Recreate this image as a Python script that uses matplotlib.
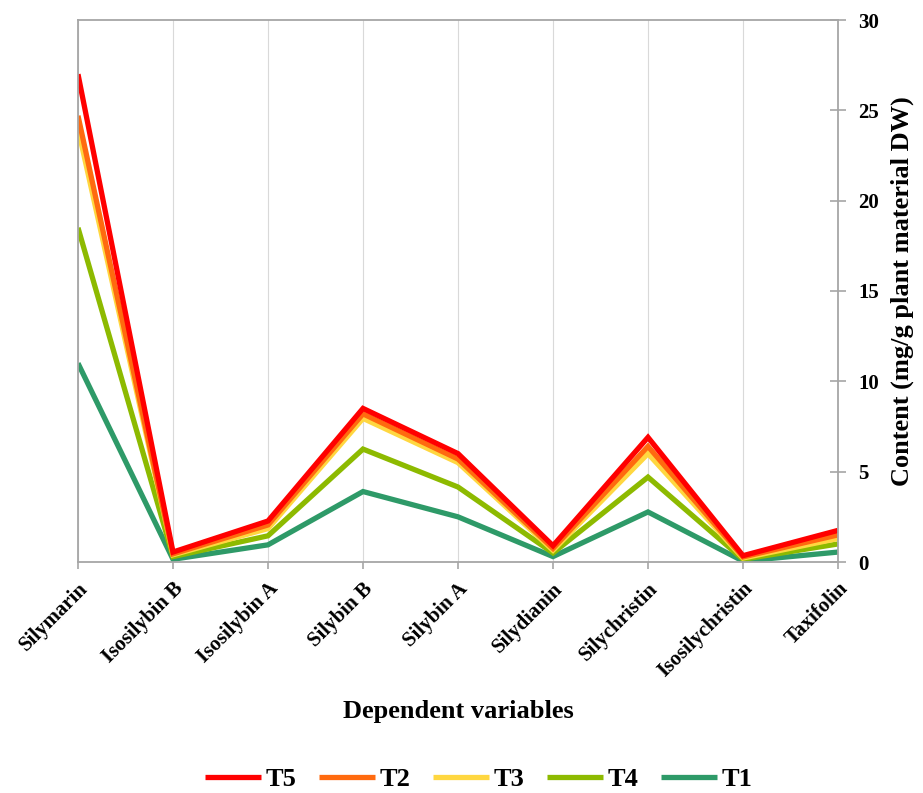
import matplotlib
matplotlib.use("Agg")
import matplotlib.pyplot as plt

categories = ["Silymarin", "Isosilybin B", "Isosilybin A", "Silybin B", "Silybin A",
              "Silydianin", "Silychristin", "Isosilychristin", "Taxifolin"]

t5 = [27.0, 0.55, 2.27, 8.5, 6.0, 0.9, 6.9, 0.35, 1.75]
t2 = [24.7, 0.45, 2.05, 8.2, 5.7, 0.75, 6.4, 0.28, 1.5]
t3 = [24.0, 0.40, 1.85, 7.95, 5.5, 0.65, 6.0, 0.22, 1.3]
t4 = [18.5, 0.30, 1.45, 6.25, 4.15, 0.5, 4.7, 0.15, 1.0]
t1 = [11.0, 0.15, 0.95, 3.9, 2.5, 0.3, 2.77, 0.05, 0.55]

series = [("T5", t5, "#FF0000"), ("T2", t2, "#FF6A0F"), ("T3", t3, "#FFD740"),
          ("T4", t4, "#8DBA00"), ("T1", t1, "#2E9A68")]

plt.rcParams["font.family"] = ["Liberation Serif", "DejaVu Serif"]
plt.rcParams["font.weight"] = "bold"

fig = plt.figure(figsize=(9.23, 7.93), dpi=100)
ax = fig.add_axes([78 / 923, 1 - 562 / 793, 760 / 923, 542 / 793])

x = list(range(len(categories)))
lines = {}
for name, vals, col in series[::-1]:
    ln, = ax.plot(x, vals, color=col, lw=3.8, solid_joinstyle="miter",
                  solid_capstyle="butt", label=name)
    lines[name] = ln

ax.set_xlim(0, len(categories) - 1)
ax.set_ylim(0, 30)
ax.set_yticks(range(0, 31, 5))
ax.set_xticks(x)
ax.set_xticklabels(categories, rotation=45, ha="right", rotation_mode="anchor",
                   fontsize=15, fontweight="bold")
ax.yaxis.tick_right()
ax.yaxis.set_label_position("right")
ax.tick_params(axis="y", direction="inout", length=11, width=1.2, color="#A6A6A6",
               labelsize=15, pad=9)
ax.tick_params(axis="x", direction="out", length=5, width=1.2, color="#A6A6A6", pad=7)
for lab in ax.get_yticklabels():
    lab.set_fontweight("bold")

ax.grid(axis="x", color="#D9D9D9", lw=0.8)
ax.set_axisbelow(True)
for side in ["left", "right", "top", "bottom"]:
    ax.spines[side].set_color("#A6A6A6")
    ax.spines[side].set_linewidth(1.3)

ax.set_ylabel("Content (mg/g plant material DW)", fontsize=19, fontweight="bold",
              labelpad=8)
ax.set_xlabel("Dependent variables", fontsize=19, fontweight="bold", labelpad=13)

handles = [lines[n] for n, _, _ in series]
fig.legend(handles, [n for n, _, _ in series], loc="center", ncol=5,
           bbox_to_anchor=(479 / 923, 1 - 779 / 793), frameon=False,
           prop={"size": 19, "weight": "bold", "family": "Liberation Serif"},
           handlelength=2.1, handletextpad=0.2, columnspacing=0.85)

fig.savefig("out.png", dpi=100)
